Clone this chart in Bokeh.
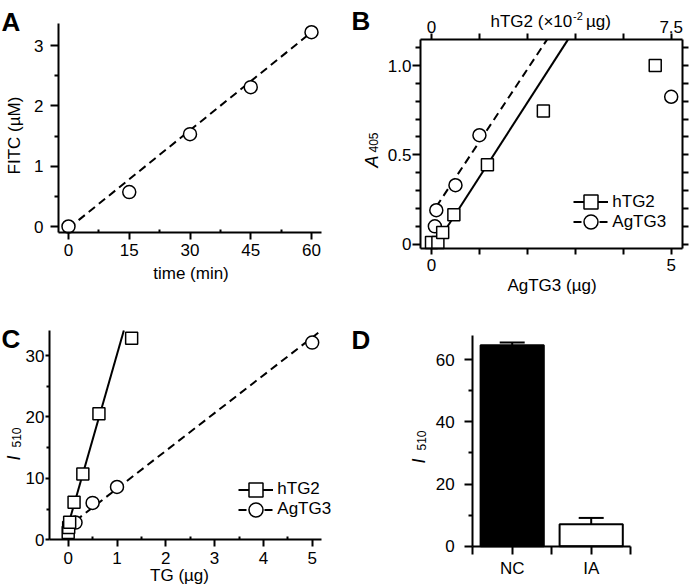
import math
from bokeh.plotting import figure
from bokeh.models import (Range1d, LinearAxis, FixedTicker, Legend, LegendItem,
                          ColumnDataSource, Whisker, TeeHead)
from bokeh.core.properties import value
from bokeh.layouts import column, row
from bokeh.embed import file_html
from bokeh.resources import INLINE

FONT = "Liberation Sans"
TXT = "17px"

# ---------------- data ----------------
# Panel A
a_time = [0, 15, 30, 45, 60]
a_fitc = [0.0, 0.57, 1.53, 2.31, 3.22]
a_fit_time = [0, 60]
a_fit_fitc = [-0.03, 3.22]
a_x_major = [0, 15, 30, 45, 60]
a_x_minor = [7.5, 22.5, 37.5, 52.5]
a_y_major = [0, 1, 2, 3]
a_y_minor = [0.5, 1.5, 2.5]

# Panel B  (hTG2 in x10^-2 ug on the top axis, AgTG3 in ug on the bottom axis)
b_htg2_amt = [0, 0.2, 0.35, 0.7, 1.75, 3.5, 7.0]
b_htg2_a405 = [0.01, 0.01, 0.065, 0.165, 0.445, 0.745, 1.0]
b_agtg3_amt = [0.07, 0.1, 0.5, 1.0, 5.0]
b_agtg3_a405 = [0.10, 0.19, 0.33, 0.61, 0.825]
b_htg2_fit_amt = [0.36, 4.27]
b_htg2_fit_a405 = [0.06, 1.145]
b_agtg3_fit_amt = [0.1, 2.41]
b_agtg3_fit_a405 = [0.21, 1.145]
b_bottom_major = [0, 5]
b_bottom_minor = [1, 2, 3, 4]
b_top_major = [0, 7.5]
b_top_minor = [1.5, 3.0, 4.5, 6.0]
b_y_major = [0, 0.5, 1.0]
b_y_minor = [0.1, 0.2, 0.3, 0.4, 0.6, 0.7, 0.8, 0.9, 1.1]
b_y_all = [0, 0.1, 0.2, 0.3, 0.4, 0.5, 0.6, 0.7, 0.8, 0.9, 1.0, 1.1]

# Panel C
c_htg2_tg = [0, 0.01, 0.03, 0.12, 0.3, 0.63, 1.3]
c_htg2_i510 = [1.2, 2.0, 2.85, 6.1, 10.7, 20.5, 32.8]
c_agtg3_tg = [0.15, 0.5, 1.0, 5.0]
c_agtg3_i510 = [2.8, 6.0, 8.6, 32.1]
c_htg2_fit_tg = [0.0, 1.14]
c_htg2_fit_i510 = [2.4, 34.07]
c_agtg3_fit_tg = [0.15, 5.185]
c_agtg3_fit_i510 = [3.1, 34.07]
c_x_major = [0, 1, 2, 3, 4, 5]
c_x_minor = [0.5, 1.5, 2.5, 3.5, 4.5]
c_y_major = [0, 10, 20, 30]
c_y_minor = [5, 15, 25]

# Panel D
d_groups = ["NC", "IA"]
d_i510 = [64.7, 7.1]
d_err = [0.9, 2.0]
d_y_major = [0, 20, 40, 60]
d_y_minor = [10, 30, 50]


# ---------------- helpers ----------------
class Panel:
    """Figure whose frame is the whole canvas; axes are drawn at fixed data positions."""

    def __init__(self, x0, y0, w, h, xcal, ycal, box):
        # xcal/ycal: (page pixel, value, pixels per unit)
        self.x0, self.y0, self.w, self.h = x0, y0, w, h
        self.xcal, self.ycal = xcal, ycal
        px, vx, kx = xcal
        py, vy, ky = ycal
        xr = (vx + (x0 - px) / kx, vx + (x0 + w - px) / kx)
        yr = (vy + (py - (y0 + h)) / ky, vy + (py - y0) / ky)
        p = figure(width=w, height=h, x_range=Range1d(*xr), y_range=Range1d(*yr),
                   x_axis_type=None, y_axis_type=None, output_backend="svg",
                   toolbar_location=None, tools="", min_border=0,
                   min_border_left=0, min_border_right=0, min_border_top=0,
                   min_border_bottom=0)
        p.title = None
        p.outline_line_color = None
        p.background_fill_color = "white"
        p.border_fill_color = "white"
        self.p = p
        self.box = box  # (xmin, xmax, ymin, ymax) in data units

    def axis(self, side, major, minor, overrides=None, major_out=7, minor_out=4, minor_in=0,
             standoff=4, x_range_name=None, scale=1.0):
        xmin, xmax, ymin, ymax = self.box
        kw = {}
        if x_range_name:
            kw["x_range_name"] = x_range_name
        if side == "below":
            loc, bounds = ymin, (xmin * scale, xmax * scale)
        elif side == "above":
            loc, bounds = ymax, (xmin * scale, xmax * scale)
        elif side == "left":
            loc, bounds = xmin, (ymin, ymax)
        else:
            loc, bounds = xmax, (ymin, ymax)
        ax = LinearAxis(ticker=FixedTicker(ticks=major, minor_ticks=minor),
                        fixed_location=loc, bounds=bounds, **kw)
        ax.axis_line_width = 2
        ax.axis_line_color = "black"
        ax.major_tick_line_width = 2
        ax.minor_tick_line_width = 2
        ax.major_tick_line_color = "black"
        ax.minor_tick_line_color = "black"
        ax.major_tick_in = 0
        ax.major_tick_out = major_out
        ax.minor_tick_in = minor_in
        ax.minor_tick_out = minor_out
        ax.major_label_text_font = FONT
        ax.major_label_text_font_size = TXT
        ax.major_label_text_color = "black"
        ax.major_label_standoff = standoff
        if overrides:
            ax.major_label_overrides = overrides
        self.p.add_layout(ax, side)
        return ax

    def text(self, X, Y, s, size=TXT, style="normal", align="left", angle=0.0):
        px, vx, kx = self.xcal
        py, vy, ky = self.ycal
        self.p.text(x=[vx + (X - px) / kx], y=[vy + (py - Y) / ky], text=[s],
                    text_font=value(FONT), text_font_size=value(size),
                    text_font_style=value(style), text_align=value(align),
                    text_baseline=value("alphabetic"), angle=angle, text_color="black")

    def legend_row(self, label, renderers, X, Ycenter):
        g = 35
        lg = Legend(items=[LegendItem(label=label, renderers=renderers)],
                    location=(X - self.x0, self.y0 + self.h - (Ycenter + g / 2)),
                    orientation="vertical", glyph_width=g, glyph_height=g, spacing=0,
                    padding=0, margin=0, label_standoff=4, label_text_font=FONT,
                    label_text_font_size=TXT, label_text_color="black",
                    border_line_color=None, background_fill_alpha=0)
        self.p.add_layout(lg)


MK = dict(fill_color="white", line_color="black", line_width=1.5)
ROT = math.pi / 2

# ---------------- Panel A ----------------
A = Panel(0, 0, 340, 300, (68, 0, 4.05), (226, 0, 60.333), (-2.47, 62.47, -0.1, 3.365))
A.axis("below", a_x_major, a_x_minor, major_out=7, minor_out=0, minor_in=3, standoff=4)
A.axis("left", a_y_major, a_y_minor, major_out=8, minor_out=4, standoff=7)
A.p.line(a_fit_time, a_fit_fitc, line_color="black", line_width=2, line_dash="8 5")
A.p.scatter(a_time, a_fitc, marker="circle", size=13, **MK)
A.text(1, 21, "A", size="26px", style="bold")
A.text(13.5, 135, "FITC (µM)", align="center", angle=ROT)
A.text(190.5, 273, "time (min)", align="center")

# ---------------- Panel B ----------------
B = Panel(340, 0, 353, 300, (431, 0, 47.94), (243.7, 0, 178.7),
          (-0.2295, 5.2357, -0.0241, 1.1455))
bx = B.p.x_range
B.p.extra_x_ranges = {"top": Range1d(bx.start * 1.5, bx.end * 1.5)}
B.axis("below", b_bottom_major, b_bottom_minor, major_out=6, minor_out=6, standoff=4)
B.axis("above", b_top_major, b_top_minor, overrides={0: "0", 7.5: "7.5"},
       major_out=6, minor_out=6, standoff=0, x_range_name="top", scale=1.5)
B.axis("left", b_y_major, b_y_minor, overrides={0: "0", 0.5: "0.5", 1.0: "1.0"},
       major_out=8, minor_out=5, standoff=1)
B.axis("right", [], b_y_all, major_out=6, minor_out=6, standoff=0)
lB1 = B.p.line(b_htg2_fit_amt, b_htg2_fit_a405, x_range_name="top",
               line_color="black", line_width=2)
lB2 = B.p.line(b_agtg3_fit_amt, b_agtg3_fit_a405, line_color="black", line_width=2,
               line_dash="8 5")
sB2 = B.p.scatter(b_agtg3_amt, b_agtg3_a405, marker="circle", size=13, **MK)
sB1 = B.p.scatter(b_htg2_amt, b_htg2_a405, x_range_name="top", marker="square",
                  size=12, **MK)
B.legend_row("hTG2", [lB1, sB1], 573.3, 201.7)
B.legend_row("AgTG3", [lB2, sB2], 573.3, 221.7)
B.text(351, 20, "B", size="26px", style="bold")
B.text(490, 21, "hTG2 (×10")
B.text(572.5, 15, "-2", size="11px")
B.text(585.5, 21, "µg)")
B.text(371, 167, "A", size="18px", style="italic", angle=ROT)
B.text(373, 152, "405", size="12px", angle=ROT)
B.text(551.5, 285, "AgTG3 (µg)", align="center")

# ---------------- Panel C ----------------
C = Panel(0, 300, 340, 285, (67.7, 0, 48.8), (539.3, 0, 6.1433),
          (-0.383, 5.191, 0, 34.07))
C.axis("below", c_x_major, c_x_minor, major_out=7, minor_out=0, minor_in=3, standoff=5)
C.axis("left", c_y_major, c_y_minor, major_out=4, minor_out=3, standoff=1)
lC1 = C.p.line(c_htg2_fit_tg, c_htg2_fit_i510, line_color="black", line_width=2)
lC2 = C.p.line(c_agtg3_fit_tg, c_agtg3_fit_i510, line_color="black", line_width=2,
               line_dash="8 5")
sC2 = C.p.scatter(c_agtg3_tg, c_agtg3_i510, marker="circle", size=13, **MK)
sC1 = C.p.scatter(c_htg2_tg, c_htg2_i510, marker="square", size=12, **MK)
C.legend_row("hTG2", [lC1, sC1], 238.3, 489.3)
C.legend_row("AgTG3", [lC2, sC2], 238.3, 509.3)
C.text(1, 338, "C", size="26px", style="bold")
C.text(13, 460, "I", size="18px", style="italic", angle=ROT)
C.text(16, 447, "510", size="12px", angle=ROT)
C.text(179, 575, "TG (µg)", align="center")

# ---------------- Panel D ----------------
D = Panel(340, 300, 353, 285, (511.7, 1, 79.0), (545.7, 0, 3.107), (0.5, 2.5, 0, 67.8))
d_x = [i + 1 for i in range(len(d_groups))]
D.axis("below", d_x, [0.5, 1.5, 2.5], overrides={x: g for x, g in zip(d_x, d_groups)},
       major_out=8, minor_out=8, standoff=5)
D.axis("left", d_y_major, d_y_minor, major_out=8, minor_out=4, standoff=10)
srcD = ColumnDataSource(dict(x=d_x, top=d_i510,
                             upper=[v + e for v, e in zip(d_i510, d_err)],
                             color=["black", "white"]))
D.p.vbar(x="x", top="top", bottom=0, width=0.8, fill_color="color", line_color="black",
         line_width=2, source=srcD)
D.p.add_layout(Whisker(source=srcD, base="x", upper="upper", lower="top",
                       dimension="height", line_color="black", line_width=2,
                       upper_head=TeeHead(size=25, line_width=2, line_color="black"),
                       lower_head=None))
D.text(351, 339, "D", size="26px", style="bold")
D.text(418, 463, "I", size="18px", style="italic", angle=ROT)
D.text(421, 450, "510", size="12px", angle=ROT)

layout = column(row(A.p, B.p), row(C.p, D.p))
open("out.html", "w").write(file_html(layout, INLINE))
